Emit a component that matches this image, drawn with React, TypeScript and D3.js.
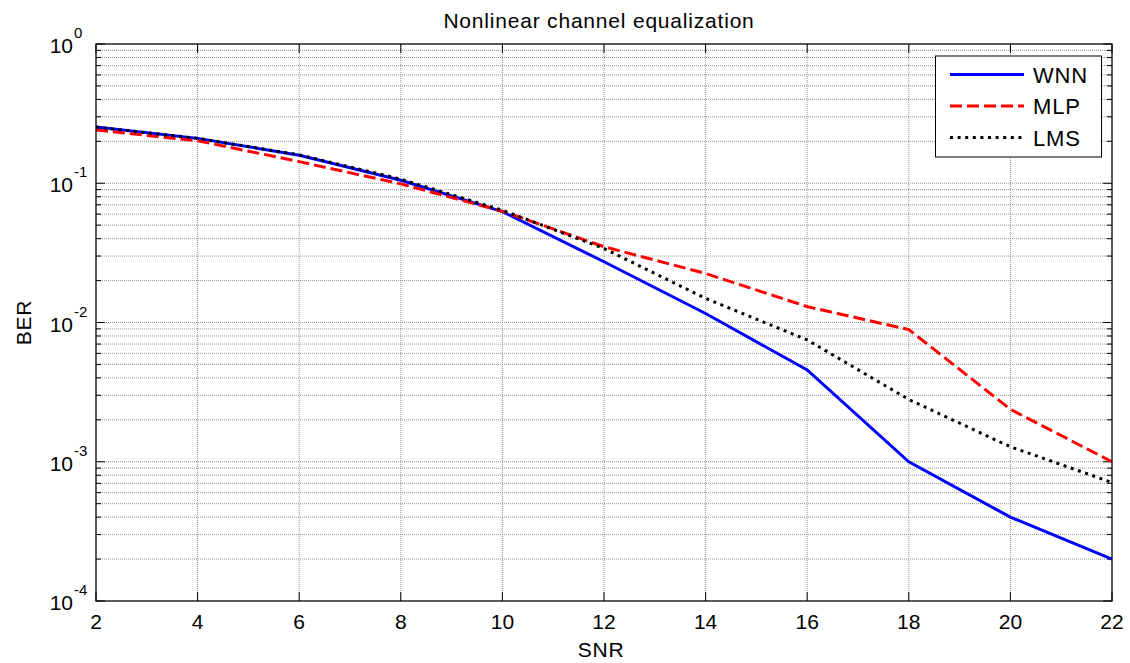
import React from "react";
import * as d3 from "d3";

const snr = [2, 4, 6, 8, 10, 12, 14, 16, 18, 20, 22];
const wnn = [0.253, 0.21, 0.159, 0.105, 0.0625, 0.0273, 0.0116, 0.00456, 0.001, 0.0004, 0.0002];
const mlp = [0.241, 0.202, 0.143, 0.099, 0.063, 0.035, 0.0225, 0.013, 0.0089, 0.00238, 0.001];
const lms = [0.253, 0.21, 0.16, 0.107, 0.064, 0.034, 0.0149, 0.0075, 0.0028, 0.00128, 0.00071];
const xTicks = [2, 4, 6, 8, 10, 12, 14, 16, 18, 20, 22];
const yDecades = [0, -1, -2, -3, -4];
const seriesNames = ["WNN", "MLP", "LMS"];

const W = 1130, H = 663;
const L = 96, R = 1112, T = 44, B = 601;
const FONT = "'Liberation Sans', Arial, Helvetica, sans-serif";

export default function App() {
  const x = d3.scaleLinear().domain([2, 22]).range([L, R]);
  const y = d3.scaleLog().domain([1e-4, 1]).range([B, T]);
  const line = d3.line<[number, number]>().x(d => x(d[0])).y(d => y(d[1]));

  const minor: number[] = [];
  for (let e = -4; e < 0; e++) for (let k = 2; k <= 9; k++) minor.push(k * Math.pow(10, e));

  const series = [
    { name: seriesNames[0], data: wnn, color: "#0000ff", dash: undefined },
    { name: seriesNames[1], data: mlp, color: "#ff0000", dash: "12,5" },
    { name: seriesNames[2], data: lms, color: "#000000", dash: "3,4.6" },
  ];

  const grid = { stroke: "#7a7a7a", strokeWidth: 0.8, strokeDasharray: "1,1" };

  return (
    <svg width={W} height={H} style={{ display: "block", position: "absolute", left: 0, top: 0, background: "#fff" }}>
      <rect x={0} y={0} width={W} height={H} fill="#fff" />
      {/* grid */}
      {minor.map((v, i) => (
        <line key={"mg" + i} x1={L} x2={R} y1={y(v)} y2={y(v)} {...grid} />
      ))}
      {yDecades.map(e => (
        <line key={"dg" + e} x1={L} x2={R} y1={y(Math.pow(10, e))} y2={y(Math.pow(10, e))} {...grid} />
      ))}
      {xTicks.map(t => (
        <line key={"xg" + t} x1={x(t)} x2={x(t)} y1={T} y2={B} {...grid} />
      ))}
      {/* ticks */}
      {xTicks.map(t => (
        <g key={"xt" + t}>
          <line x1={x(t)} x2={x(t)} y1={B} y2={B - 9} stroke="#000" strokeWidth={1} />
          <line x1={x(t)} x2={x(t)} y1={T} y2={T + 9} stroke="#000" strokeWidth={1} />
        </g>
      ))}
      {yDecades.map(e => (
        <g key={"yt" + e}>
          <line x1={L} x2={L + 9} y1={y(Math.pow(10, e))} y2={y(Math.pow(10, e))} stroke="#000" strokeWidth={1} />
          <line x1={R} x2={R - 9} y1={y(Math.pow(10, e))} y2={y(Math.pow(10, e))} stroke="#000" strokeWidth={1} />
        </g>
      ))}
      {minor.map((v, i) => (
        <g key={"ymt" + i}>
          <line x1={L} x2={L + 5} y1={y(v)} y2={y(v)} stroke="#000" strokeWidth={1} />
          <line x1={R} x2={R - 5} y1={y(v)} y2={y(v)} stroke="#000" strokeWidth={1} />
        </g>
      ))}
      {/* lines */}
      {series.map(s => (
        <path
          key={s.name}
          d={line(snr.map((v, i) => [v, s.data[i]] as [number, number])) || ""}
          fill="none"
          stroke={s.color}
          strokeWidth={3}
          strokeDasharray={s.dash}
        />
      ))}
      {/* axes box */}
      <rect x={L} y={T} width={R - L} height={B - T} fill="none" stroke="#000" strokeWidth={1.2} />
      {/* x tick labels */}
      {xTicks.map(t => (
        <text key={"xl" + t} x={x(t)} y={629} textAnchor="middle" fontFamily={FONT} fontSize={21} fill="#000">
          {t}
        </text>
      ))}
      {/* y tick labels */}
      {yDecades.map(e => (
        <g key={"yl" + e}>
          <text x={73} y={y(Math.pow(10, e)) + 9} textAnchor="end" fontFamily={FONT} fontSize={21} fill="#000">10</text>
          <text x={74} y={y(Math.pow(10, e)) - 6} textAnchor="start" fontFamily={FONT} fontSize={15} fill="#000">{e}</text>
        </g>
      ))}
      {/* title and labels */}
      <text x={599} y={28} textAnchor="middle" fontFamily={FONT} fontSize={21} letterSpacing={0.8} fill="#000">
        Nonlinear channel equalization
      </text>
      <text x={601} y={657} textAnchor="middle" fontFamily={FONT} fontSize={21} letterSpacing={0.8} fill="#000">SNR</text>
      <text transform={`translate(31,${(T + B) / 2}) rotate(-90)`} textAnchor="middle" fontFamily={FONT} fontSize={21} letterSpacing={0.8} fill="#000">BER</text>
      {/* legend */}
      <rect x={935.5} y={56} width={166} height={101} fill="#fff" stroke="#000" strokeWidth={1} />
      {series.map((s, i) => {
        const ly = 74.5 + i * 31.5;
        return (
          <g key={"lg" + s.name}>
            <line x1={950} x2={1024} y1={ly} y2={ly} stroke={s.color} strokeWidth={3} strokeDasharray={s.dash} />
            <text x={1033} y={ly + 8} fontFamily={FONT} fontSize={22} letterSpacing={0.8} fill="#000">{s.name}</text>
          </g>
        );
      })}
    </svg>
  );
}
